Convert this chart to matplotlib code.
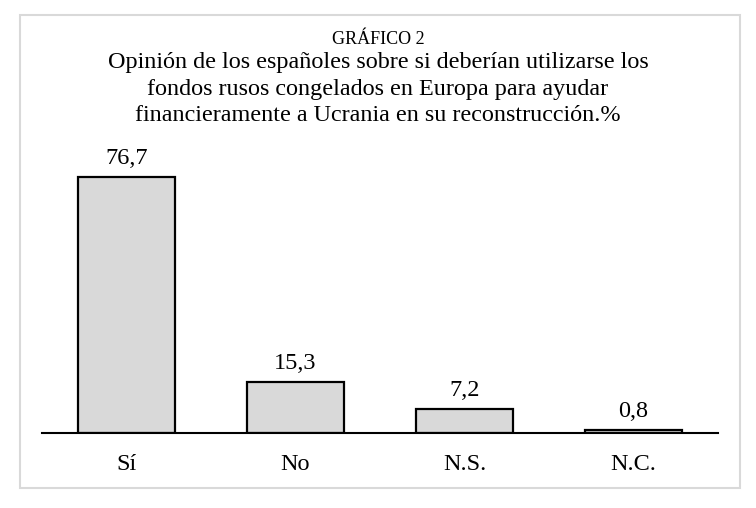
#!/usr/bin/env python3
"""
Gráfico 2 - uso de los fondos rusos congelados
"""

import matplotlib
matplotlib.use('Agg')
import matplotlib.pyplot as plt
from matplotlib.patches import Rectangle

# Data
categories = ['Sí', 'No', 'N.S.', 'N.C.']
values = [76.7, 15.3, 7.2, 0.8]
value_labels = ['76,7', '15,3', '7,2', '0,8']

plt.rcParams['font.family'] = ['Liberation Serif', 'DejaVu Serif']

W, H = 756, 508
fig = plt.figure(figsize=(W / 100, H / 100), dpi=100)

# Axes placed in pixel terms: baseline y=433, x from 42 to 718
ymax = 85
px_per_unit = 256 / 76.7
ax_top = 433 - ymax * px_per_unit
ax = fig.add_axes([42 / W, (H - 433) / H, 676 / W, (433 - ax_top) / H])

x = range(len(categories))
ax.bar(x, values, width=0.57, color='#d9d9d9', edgecolor='black', linewidth=1.6)

for xi, v, lab in zip(x, values, value_labels):
    ax.annotate(lab, (xi, v), xytext=(0, 6), textcoords='offset points',
                ha='center', va='bottom', fontsize=17.5)

ax.set_xlim(-0.5, 3.5)
ax.set_ylim(0, ymax)
ax.set_xticks(list(x))
ax.set_xticklabels(categories, fontsize=17.5)
ax.tick_params(axis='x', length=0, pad=15)
ax.set_yticks([])
for side in ['left', 'right', 'top']:
    ax.spines[side].set_visible(False)
ax.spines['bottom'].set_linewidth(1.5)
ax.spines['bottom'].set_color('black')

# Titles
fig.text(0.5, 1 - 40 / H, 'GRÁFICO 2', ha='center', va='center', fontsize=13)
fig.text(0.5, 1 - 89 / H,
         'Opinión de los españoles sobre si deberían utilizarse los\n'
         'fondos rusos congelados en Europa para ayudar\n'
         'financieramente a Ucrania en su reconstrucción.%',
         ha='center', va='center', fontsize=17.4, linespacing=1.36)

# Frame around the chart
fig.patches.append(Rectangle((20 / W, (H - 488) / H), 720 / W, 473 / H,
                             transform=fig.transFigure, fill=False,
                             edgecolor='#d9d9d9', linewidth=1.5))

plt.savefig('out.png', dpi=100)
plt.close()
